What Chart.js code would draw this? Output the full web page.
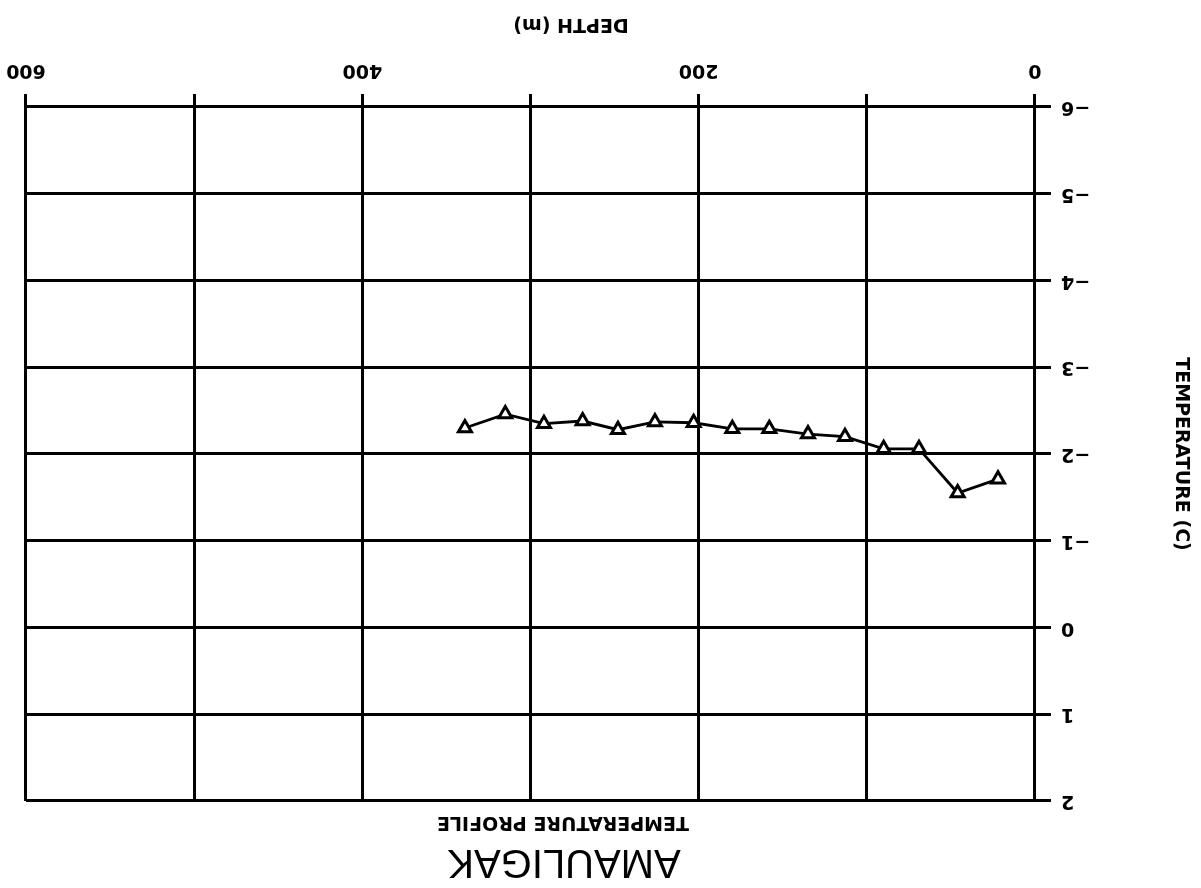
<!DOCTYPE html>
<html><head><meta charset="utf-8">
<script src="https://cdn.jsdelivr.net/npm/chart.js@4"></script>
<style>
html,body{margin:0;padding:0;background:#fff;overflow:hidden;}
#wrap{width:1201px;height:888px;transform:rotate(180deg);transform-origin:50% 50%;background:#fff;}
canvas{display:block;}
</style></head><body>
<div id="wrap"><canvas id="c" width="1201" height="888"></canvas></div>
<script>
// Data read from the (upside-down) scanned plot
const depths = [22, 46, 69, 90, 113, 135, 158, 180, 203, 226, 248, 269, 292, 315, 339];
const temps  = [-1.71, -1.55, -2.06, -2.06, -2.20, -2.23, -2.29, -2.29, -2.36, -2.37, -2.28, -2.38, -2.35, -2.46, -2.30];
const depthTicks  = [0, 100, 200, 300, 400, 500, 600];
const depthLabels = ['0', '', '200', '', '400', '', '600'];
const tempTicks  = [-6, -5, -4, -3, -2, -1, 0, 1, 2];
const tempLabels = ['\u22126', '\u22125', '\u22124', '\u22123', '\u22122', '\u22121', '0', '1', '2'];
const chartTitle = 'AMAULIGAK';
const chartSubtitle = 'TEMPERATURE PROFILE';
const xTitle = 'DEPTH (m)';
const yTitle = 'TEMPERATURE (C)';

const boldFont = {family: 'DejaVu Sans', size: 19, weight: 'bold'};

const textPlugin = {
  id: 'plotterText',
  afterDraw(chart) {
    const ctx = chart.ctx;
    ctx.save();
    ctx.fillStyle = '#000';
    ctx.textAlign = 'center';
    ctx.textBaseline = 'alphabetic';
    ctx.font = '40px "Liberation Sans"';
    ctx.fillText(chartTitle, 637, 38);
    ctx.font = 'bold 19px "DejaVu Sans"';
    ctx.fillText(chartSubtitle, 638, 71);
    ctx.fillText(xTitle, 630, 869);
    ctx.restore();
  }
};

new Chart(document.getElementById('c'), {
  type: 'line',
  data: {
    datasets: [{
      data: depths.map((d, i) => ({x: d, y: temps[i]})),
      borderColor: '#000',
      borderWidth: 2.8,
      pointStyle: 'triangle',
      pointRadius: 7.5,
      pointRotation: 180,
      pointBackgroundColor: '#fff',
      pointBorderColor: '#000',
      pointBorderWidth: 3,
      tension: 0,
      fill: false
    }]
  },
  options: {
    responsive: false,
    animation: false,
    devicePixelRatio: 1,
    layout: {padding: {top: 87, right: 26, bottom: 0, left: 0}},
    plugins: {legend: {display: false}, title: {display: false}, tooltip: {enabled: false}},
    scales: {
      x: {
        type: 'linear', position: 'bottom', min: 0, max: 600,
        afterBuildTicks: s => { s.ticks = depthTicks.map(v => ({value: v})); },
        afterFit: s => { s.height = 107; s.paddingLeft = 0; s.paddingRight = 0; },
        ticks: {
          callback: v => depthLabels[depthTicks.indexOf(v)],
          color: '#000', font: boldFont, padding: 13, maxRotation: 0, autoSkip: false
        },
        grid: {color: '#000', lineWidth: 3, tickLength: 13, drawTicks: true},
        border: {color: '#000', width: 3},
        title: {display: false}
      },
      y: {
        type: 'linear', min: -6, max: 2,
        afterBuildTicks: s => { s.ticks = tempTicks.map(v => ({value: v})); },
        afterFit: s => { s.width = 166; s.paddingTop = 0; s.paddingBottom = 0; },
        ticks: {
          callback: v => tempLabels[tempTicks.indexOf(v)],
          color: '#000', font: boldFont, padding: 10, autoSkip: false
        },
        grid: {color: '#000', lineWidth: 3, tickLength: 16, drawTicks: true},
        border: {color: '#000', width: 3},
        title: {display: true, text: yTitle, color: '#000', font: boldFont, padding: {top: 9, bottom: 0}}
      }
    }
  },
  plugins: [textPlugin]
});
</script>
</body></html>
